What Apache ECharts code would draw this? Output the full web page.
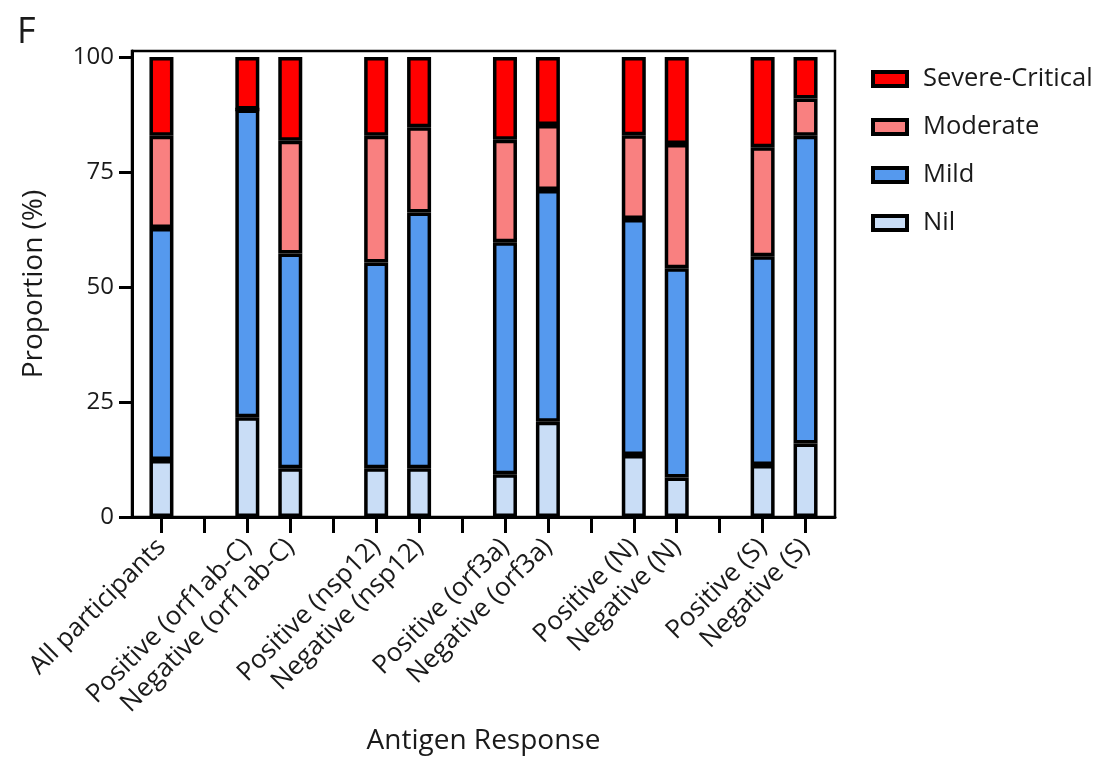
<!DOCTYPE html>
<html>
<head>
<meta charset="utf-8">
<script src="https://cdn.jsdelivr.net/npm/echarts@6/dist/echarts.min.js"></script>
<style>
  html, body { margin: 0; padding: 0; background: #fff; }
  #chart { width: 1103px; height: 761px; }
</style>
</head>
<body>
<div id="chart"></div>
<script>
// Antigen-response groups, in display order (a blank slot separates groups)
const groups = [
  ['All participants'],
  ['Positive (orf1ab-C)', 'Negative (orf1ab-C)'],
  ['Positive (nsp12)', 'Negative (nsp12)'],
  ['Positive (orf3a)', 'Negative (orf3a)'],
  ['Positive (N)', 'Negative (N)'],
  ['Positive (S)', 'Negative (S)']
];

// Disease severity proportions (%) per bar, bottom to top of each stack
const nil      = [12.4, 21.7, 10.6, 10.6, 10.6,  9.3, 20.7, 13.5,  8.6, 11.3, 16.0];
const mild     = [50.4, 66.9, 46.7, 44.7, 55.6, 50.4, 50.4, 51.3, 45.5, 45.4, 66.9];
const moderate = [20.1,  0.0, 24.5, 27.6, 18.5, 22.3, 14.1, 18.2, 27.0, 23.7,  8.1];
const severe   = [17.1, 11.4, 18.2, 17.1, 15.3, 18.0, 14.8, 17.0, 18.9, 19.6,  9.0];

const yTicks = [0, 25, 50, 75, 100];

// Build the category slots: bars in a group sit side by side, groups are split by an empty slot
const slotLabels = [];
const barSlot = [];
groups.forEach((g, gi) => {
  if (gi > 0) slotLabels.push('');
  g.forEach(name => { barSlot.push(slotLabels.length); slotLabels.push(name); });
});
function spread(values) {
  const out = slotLabels.map(() => null);
  values.forEach((v, i) => { out[barSlot[i]] = v; });
  return out;
}

const FONT = '"Open Sans", "Noto Sans", sans-serif';
const TXT = '#1a1a1a';
const Y_MAX = 101.3;

// plot frame (axes + box) and the bar area, which is inset inside the frame
const FRAME = { left: 132, right: 268, top: 51, bottom: 244 };
const SLOT_W = 42.94;
const inset = (1103 - FRAME.left - FRAME.right - SLOT_W * slotLabels.length) / 2;

function mkSeries(name, values, color) {
  return {
    name: name,
    type: 'bar',
    stack: 'total',
    xAxisIndex: 0, yAxisIndex: 0,
    barWidth: 24,
    data: spread(values),
    itemStyle: { color: color, borderColor: '#000', borderWidth: 3.5 },
    emphasis: { disabled: true }
  };
}

const chart = echarts.init(document.getElementById('chart'), null, { renderer: 'canvas' });
chart.setOption({
  animation: false,
  backgroundColor: '#fff',
  title: {
    text: 'F', left: 12, top: 10,
    textStyle: { fontFamily: FONT, fontSize: 36, fontWeight: 'normal', color: TXT }
  },
  legend: {
    orient: 'vertical',
    left: 866, top: 61,
    itemWidth: 34, itemHeight: 14, itemGap: 22,
    icon: 'rect',
    data: ['Severe-Critical', 'Moderate', 'Mild', 'Nil'],
    itemStyle: { borderColor: '#000', borderWidth: 4 },
    textStyle: { fontFamily: FONT, fontSize: 25.5, lineHeight: 26, color: TXT, padding: [0, 0, 0, 11] },
    selectedMode: false
  },
  grid: [
    {
      left: FRAME.left + inset, right: FRAME.right + inset,
      top: FRAME.top, bottom: FRAME.bottom
    },
    {
      left: FRAME.left, right: FRAME.right, top: FRAME.top, bottom: FRAME.bottom,
      show: true, borderColor: '#000', borderWidth: 2.5
    }
  ],
  xAxis: [
    {
      gridIndex: 0,
      type: 'category',
      data: slotLabels,
      axisLine: { show: false },
      axisTick: {
        show: true, alignWithLabel: true, interval: 0, length: 16,
        lineStyle: { color: '#000', width: 3 }
      },
      axisLabel: {
        interval: 0, rotate: 45, margin: 26,
        fontFamily: FONT, fontSize: 26, color: TXT
      }
    },
    {
      gridIndex: 1,
      type: 'value', min: 0, max: 1,
      name: 'Antigen Response',
      nameLocation: 'middle', nameGap: 210,
      nameTextStyle: { fontFamily: FONT, fontSize: 28, color: TXT },
      axisLine: { show: true, lineStyle: { color: '#000', width: 3 } },
      axisTick: { show: false },
      axisLabel: { show: false },
      splitLine: { show: false }
    }
  ],
  yAxis: [
    {
      gridIndex: 0,
      type: 'value', min: 0, max: Y_MAX,
      show: false,
      splitLine: { show: false }
    },
    {
      gridIndex: 1,
      type: 'value', min: 0, max: Y_MAX,
      name: 'Proportion (%)',
      nameLocation: 'middle', nameGap: 84,
      nameTextStyle: { fontFamily: FONT, fontSize: 28, color: TXT },
      axisLine: { show: true, lineStyle: { color: '#000', width: 3 } },
      axisTick: { show: true, length: 13, customValues: yTicks, lineStyle: { color: '#000', width: 3 } },
      axisLabel: {
        customValues: yTicks, margin: 18,
        fontFamily: FONT, fontSize: 24, color: TXT
      },
      splitLine: { show: false }
    }
  ],
  series: [
    mkSeries('Nil', nil, '#c9ddf6'),
    mkSeries('Mild', mild, '#5599ee'),
    mkSeries('Moderate', moderate, '#f98080'),
    mkSeries('Severe-Critical', severe, '#ff0000')
  ]
});
</script>
</body>
</html>
